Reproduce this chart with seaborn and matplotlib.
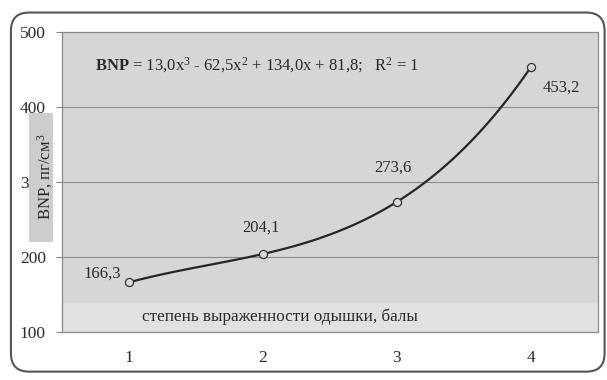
import numpy as np
import pandas as pd
import matplotlib
matplotlib.use("Agg")
import matplotlib.pyplot as plt
from matplotlib.patches import FancyBboxPatch, Rectangle
import seaborn as sns

# степень одышки и среднее BNP
grades = [1, 2, 3, 4]
bnp = [166.3, 204.1, 273.6, 453.2]
point_labels = ["166,3", "204,1", "273,6", "453,2"]
y_ticks = [100, 200, 300, 400, 500]

df = pd.DataFrame({"grade": grades, "bnp": bnp})

sns.set_style("white")
plt.rcParams['font.family'] = ['Liberation Serif', 'DejaVu Serif']
plt.rcParams['mathtext.fontset'] = 'custom'
plt.rcParams['mathtext.rm'] = 'Liberation Serif'
plt.rcParams['mathtext.it'] = 'Liberation Serif:italic'
plt.rcParams['mathtext.bf'] = 'Liberation Serif:bold'

fig = plt.figure(figsize=(6.07, 3.80), dpi=100)
ax = fig.add_axes([0.102, 0.126, 0.883, 0.790])
ax.set_facecolor("#d6d6d6")

# полоса с подписью оси x
ax.axhspan(100, 139, color="#e1e1e1", zorder=0)

for v in [200, 300, 400]:
    ax.axhline(v, color="#8c8c8c", lw=0.8, zorder=1)

# кубический тренд + точки
sns.regplot(data=df, x="grade", y="bnp", order=3, ci=None, ax=ax,
            truncate=True, scatter=False,
            line_kws={"color": "#262626", "lw": 1.6, "zorder": 3})
sns.scatterplot(data=df, x="grade", y="bnp", ax=ax, s=34, marker="o",
                facecolor="#dadada", edgecolor="#333333", linewidth=0.9, zorder=4)

# подписи точек (смещения в пунктах)
offsets = [(-19, 6), (-1.5, 19), (-3, 24.5), (22, -14.5)]
for g, v, lab, (dx, dy) in zip(grades, bnp, point_labels, offsets):
    ax.annotate(lab, (g, v), xytext=(dx, dy), textcoords="offset points",
                ha="center", va="center", fontsize=12, color="#2a2a2a", zorder=5)

ax.text(0.746, 456, r"$\mathbf{BNP}$ = 13,0x$^3$ - 62,5x$^2$ + 134,0x + 81,8;   R$^2$ = 1",
        fontsize=12, color="#2a2a2a", va="center", ha="left")
ax.text(2.13, 121, "степень выраженности одышки, балы", fontsize=12.3,
        color="#2a2a2a", ha="center", va="center")

ax.set_xlim(0.5, 4.5)
ax.set_ylim(100, 500)
ax.set_xticks(grades)
ax.set_xticks([0.5, 1.5, 2.5, 3.5, 4.5], minor=True)
ax.set_yticks(y_ticks)
ax.tick_params(axis="x", which="major", length=0, pad=13, labelsize=12.5, labelcolor="#2a2a2a")
ax.tick_params(axis="x", which="minor", length=4, color="#888888", direction="out")
ax.tick_params(axis="y", length=4, color="#888888", direction="out", pad=7.5,
               labelsize=12.5, labelcolor="#2a2a2a", left=True)
ax.set_xlabel("")
ax.set_ylabel("")
for sp in ax.spines.values():
    sp.set_color("#8a8a8a")
    sp.set_linewidth(0.9)

# серый блок с подписью оси y поверх меток (как в оригинале, прячет "00" у 300)
fig.patches.append(Rectangle((0.048, 0.363), 0.039, 0.34, transform=fig.transFigure,
                             facecolor="#cdcdcd", edgecolor="none", zorder=10))
fig.text(0.074, 0.534, "BNP, пг/см$^3$", rotation=90, ha="center", va="center",
         fontsize=12, color="#2a2a2a", zorder=11)

# рамка с закруглёнными углами
fig.patches.append(FancyBboxPatch((0.018, 0.022), 0.978, 0.945,
                                  boxstyle="round,pad=0,rounding_size=0.03",
                                  mutation_aspect=1.6,
                                  transform=fig.transFigure, facecolor="none",
                                  edgecolor="#555555", lw=1.5, zorder=0))

fig.savefig("out.png", dpi=100)
